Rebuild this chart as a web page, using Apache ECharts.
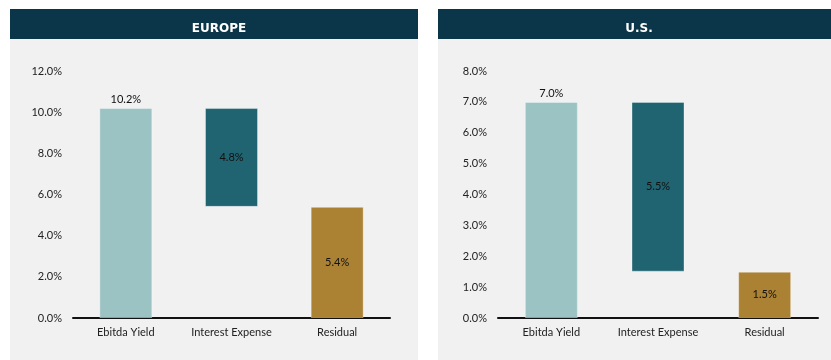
<!DOCTYPE html>
<html><head><meta charset="utf-8">
<script src="https://cdn.jsdelivr.net/npm/echarts@6/dist/echarts.min.js"></script>
<style>html,body{margin:0;padding:0;background:#fff}#c{width:831px;height:360px}</style>
</head><body><div id="c"></div>
<script>
const categories = ['Ebitda Yield', 'Interest Expense', 'Residual'];
const europeValues = [10.2, 4.8, 5.4];
const europeBase = [0, 5.4, 0];
const usValues = [7.0, 5.5, 1.5];
const usBase = [0, 1.5, 0];
const barColors = ['#9cc3c3', '#1f6470', '#ab8233'];
const panelTitles = ['EUROPE', 'U.S.'];

const FONT = 'Lato';
const chart = echarts.init(document.getElementById('c'), null, {renderer: 'canvas'});

function valSeries(vals, idx) {
  return {
    type: 'bar', stack: 's' + idx, xAxisIndex: idx, yAxisIndex: idx, barWidth: 53,
    data: vals.map((v, i) => ({
      value: v,
      itemStyle: {color: barColors[i], borderColor: 'rgba(255,255,255,0.35)', borderWidth: 1},
      label: {show: true, position: i === 0 ? 'top' : 'inside', distance: 3,
        formatter: v.toFixed(1) + '%', color: '#111', fontSize: 11, fontFamily: FONT}
    })),
    silent: true, z: 3
  };
}
function baseSeries(vals, idx) {
  return {type: 'bar', stack: 's' + idx, xAxisIndex: idx, yAxisIndex: idx, barWidth: 53,
    data: vals, itemStyle: {color: 'transparent'}, silent: true};
}
function xAx(idx) {
  return {type: 'category', gridIndex: idx, data: categories,
    axisLine: {lineStyle: {color: '#111', width: 2}}, axisTick: {show: false},
    axisLabel: {color: '#222', fontSize: 11, fontFamily: FONT, margin: 9}};
}
function yAx(idx, max, interval) {
  return {type: 'value', gridIndex: idx, min: 0, max: max, interval: interval,
    splitLine: {show: false}, axisLine: {show: false}, axisTick: {show: false},
    axisLabel: {color: '#222', fontSize: 11, fontFamily: FONT, margin: 11,
      formatter: v => v.toFixed(1) + '%'}};
}

chart.setOption({
  animation: false,
  graphic: [
    {type: 'rect', shape: {x: 10, y: 9, width: 408, height: 360}, style: {fill: '#f1f1f1'}, z: -10},
    {type: 'rect', shape: {x: 438, y: 9, width: 400, height: 360}, style: {fill: '#f1f1f1'}, z: -10},
    {type: 'rect', shape: {x: 10, y: 9, width: 408, height: 30}, style: {fill: '#0b3649'}, z: -9},
    {type: 'rect', shape: {x: 438, y: 9, width: 400, height: 30}, style: {fill: '#0b3649'}, z: -9}
  ],
  title: [
    {text: panelTitles[0], left: 214, top: 24, textAlign: 'center', textVerticalAlign: 'middle',
      textStyle: {color: '#fff', fontSize: 12, fontWeight: 'bold', fontFamily: 'DejaVu Sans'}},
    {text: panelTitles[1], left: 634, top: 24, textAlign: 'center', textVerticalAlign: 'middle',
      textStyle: {color: '#fff', fontSize: 12, fontWeight: 'bold', fontFamily: 'DejaVu Sans'}}
  ],
  grid: [
    {left: 73, right: 441, top: 71, bottom: 42},
    {left: 498, right: 13, top: 71, bottom: 42}
  ],
  xAxis: [xAx(0), xAx(1)],
  yAxis: [yAx(0, 12, 2), yAx(1, 8, 1)],
  series: [baseSeries(europeBase, 0), valSeries(europeValues, 0),
           baseSeries(usBase, 1), valSeries(usValues, 1)]
});
</script></body></html>
